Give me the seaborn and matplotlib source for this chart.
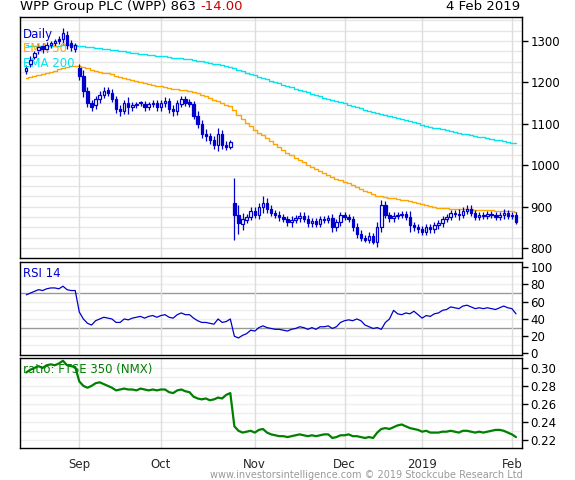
import numpy as np
import pandas as pd
import matplotlib
matplotlib.use("Agg")
import matplotlib.pyplot as plt
import seaborn as sns

# =====================================================
# DATA
# =====================================================

aug_c = [1235, 1255, 1270, 1285, 1280, 1290, 1295, 1300, 1300, 1320, 1290, 1285, 1290]
sep_c = [1215, 1180, 1150, 1140, 1160, 1170, 1180, 1175, 1160, 1135, 1130, 1150, 1140, 1145, 1148, 1150, 1140, 1148, 1150, 1140]
oct_c = [1150, 1155, 1135, 1130, 1150, 1160, 1150, 1148, 1120, 1100, 1075, 1070, 1060, 1050, 1075, 1050, 1045, 1055,
         880, 860, 870, 875, 890]
nov_c = [880, 900, 910, 895, 885, 880, 875, 870, 862, 868, 872, 878, 870, 860, 865, 858, 870, 868, 872, 850, 862, 880]
dec_c = [875, 870, 850, 835, 825, 820, 830, 815, 850, 905, 880, 872, 878, 880, 882, 875, 855, 850, 845]
jan_c = [840, 850, 845, 855, 860, 870, 875, 885, 882, 880, 890, 895, 885, 875, 880, 878, 882, 880, 875, 880, 885, 878]
feb_c = [880, 863]

aug_o = [1228, 1245, 1262, 1278, 1288, 1282, 1290, 1295, 1305, 1305, 1315, 1295, 1280]
sep_o = [1235, 1215, 1180, 1150, 1145, 1160, 1170, 1182, 1175, 1160, 1135, 1132, 1150, 1140, 1145, 1150, 1148, 1140, 1148, 1150]
oct_o = [1140, 1150, 1155, 1135, 1130, 1148, 1160, 1152, 1148, 1120, 1100, 1075, 1070, 1060, 1050, 1075, 1050, 1045,
         910, 880, 858, 868, 875]
nov_o = [890, 880, 900, 910, 895, 885, 880, 875, 870, 862, 868, 872, 878, 870, 860, 865, 858, 870, 868, 872, 850, 862]
dec_o = [880, 875, 870, 850, 835, 825, 820, 830, 815, 850, 905, 880, 872, 878, 880, 882, 875, 855, 850]
jan_o = [845, 840, 850, 845, 855, 860, 870, 875, 885, 882, 880, 890, 895, 885, 875, 880, 878, 882, 880, 875, 880, 885]
feb_o = [878, 880]

wick = ([8, 8, 6, 10, 8, 8, 6, 6, 8, 12, 10, 8, 6] +
        [10, 15, 10, 8, 8, 10, 8, 8, 8, 8, 10, 8, 15, 8, 6, 6, 8, 6, 8, 8] +
        [8, 10, 8, 10, 8, 8, 8, 8, 8, 10, 10, 12, 8, 10, 15, 10, 8, 6] +
        [60, 25, 15, 8, 8] +
        [8, 10, 15, 10, 8, 8, 10, 8, 8, 10, 8, 8, 8, 10, 8, 8, 8, 8, 8, 10, 8, 8] +
        [8, 8, 8, 10, 8, 6, 8, 6, 12, 12, 8, 8, 8, 8, 8, 8, 15, 8, 8] +
        [8, 8, 8, 8, 8, 8, 8, 8, 8, 12, 8, 8, 8, 8, 8, 8, 8, 8, 8, 8, 10, 8] +
        [8, 6])

rsi = ([68, 70, 72, 74, 73, 75, 76, 76, 75, 78, 74, 73, 73] +
       [48, 40, 35, 33, 38, 40, 42, 41, 40, 36, 36, 40, 39, 41, 42, 43, 41, 43, 44, 42] +
       [44, 45, 42, 41, 45, 47, 45, 45, 41, 38, 36, 36, 35, 34, 40, 36, 37, 40, 20, 18, 21, 23, 27] +
       [26, 30, 32, 30, 29, 28, 28, 27, 26, 28, 29, 31, 30, 28, 30, 28, 31, 31, 32, 29, 31, 36] +
       [38, 39, 38, 40, 38, 33, 31, 29, 30, 28, 36, 40, 50, 46, 45, 47, 46, 49, 45] +
       [41, 44, 43, 46, 47, 50, 51, 54, 53, 52, 55, 56, 54, 52, 53, 52, 53, 52, 51, 53, 55, 53] +
       [52, 46])

ratio = ([0.295, 0.298, 0.300, 0.302, 0.300, 0.303, 0.304, 0.303, 0.305, 0.308, 0.303, 0.302, 0.301] +
         [0.285, 0.280, 0.278, 0.280, 0.283, 0.284, 0.282, 0.280, 0.278, 0.275, 0.276, 0.277, 0.276, 0.276, 0.275,
          0.277, 0.276, 0.275, 0.276, 0.275] +
         [0.276, 0.276, 0.273, 0.272, 0.275, 0.276, 0.274, 0.273, 0.268, 0.266, 0.265, 0.266, 0.264, 0.265, 0.267,
          0.266, 0.270, 0.272, 0.235, 0.230, 0.228, 0.229, 0.230] +
         [0.228, 0.231, 0.232, 0.228, 0.226, 0.225, 0.224, 0.224, 0.223, 0.224, 0.225, 0.226, 0.225, 0.224, 0.225,
          0.224, 0.225, 0.226, 0.226, 0.222, 0.223, 0.225] +
         [0.225, 0.226, 0.224, 0.224, 0.223, 0.222, 0.223, 0.222, 0.228, 0.232, 0.233, 0.232, 0.234, 0.236, 0.237,
          0.235, 0.233, 0.232, 0.231] +
         [0.229, 0.230, 0.228, 0.228, 0.228, 0.229, 0.229, 0.230, 0.229, 0.228, 0.230, 0.230, 0.229, 0.228, 0.229,
          0.228, 0.229, 0.230, 0.231, 0.231, 0.230, 0.228] +
         [0.226, 0.223])

ema50_seed = 1210
ema200_seed = 1290

month_labels = ["Sep", "Oct", "Nov", "Dec", "2019", "Feb"]
holidays = ["2018-08-27", "2018-12-25", "2018-12-26", "2019-01-01"]

# =====================================================
# FRAME
# =====================================================

dates = pd.bdate_range("2018-08-14", "2019-02-04")
dates = dates[~dates.isin(pd.to_datetime(holidays))]

df = pd.DataFrame({
    "date": dates,
    "open": aug_o + sep_o + oct_o + nov_o + dec_o + jan_o + feb_o,
    "close": aug_c + sep_c + oct_c + nov_c + dec_c + jan_c + feb_c,
    "wick": wick,
    "rsi": rsi,
    "ratio": ratio,
})
df["x"] = np.arange(len(df))
df["high"] = df[["open", "close"]].max(axis=1) + df["wick"]
df["low"] = df[["open", "close"]].min(axis=1) - df["wick"]
df["ema50"] = pd.Series([ema50_seed] + list(df["close"])).ewm(span=50, adjust=False).mean().iloc[1:].values
df["ema200"] = pd.Series([ema200_seed] + list(df["close"])).ewm(span=200, adjust=False).mean().iloc[1:].values

month_pos = [df.index[(df["date"].dt.month == m)][0] for m in [9, 10, 11, 12, 1, 2]]

# =====================================================
# FIGURE
# =====================================================

sns.set_theme(style="white")
plt.rcParams["font.family"] = ["DejaVu Sans"]

fig = plt.figure(figsize=(5.75, 4.8), dpi=100)
left, width = 0.035, 0.873
ax1 = fig.add_axes([left, 0.4625, width, 0.502])
ax2 = fig.add_axes([left, 0.26, width, 0.194])
ax3 = fig.add_axes([left, 0.067, width, 0.187])

blue = "#0000cc"
xlim = (-1.5, len(df) + 0.5)

for ax in (ax1, ax2, ax3):
    ax.set_xlim(*xlim)
    ax.set_xticks(month_pos)
    ax.grid(axis="x", color="#dddddd", lw=1)
    ax.yaxis.tick_right()
    ax.tick_params(axis="y", right=True, length=4, width=1, labelsize=8.5, pad=2, colors="black")
    ax.tick_params(axis="x", bottom=False, labelbottom=False)
    for s in ax.spines.values():
        s.set_color("black")
        s.set_linewidth(1)

# price panel
for y in np.arange(775, 1360, 25):
    ax1.axhline(y, color="#e6e6e6", lw=1, zorder=0)
for _, r in df.iterrows():
    ax1.vlines(r["x"], r["low"], r["high"], color=blue, lw=0.9, zorder=3)
    body_lo = min(r["open"], r["close"])
    body_h = max(abs(r["close"] - r["open"]), 2)
    down = r["close"] < r["open"]
    ax1.add_patch(plt.Rectangle((r["x"] - 0.3, body_lo), 0.6, body_h,
                                facecolor=blue if down else "white", edgecolor=blue, lw=0.9, zorder=4))
sns.lineplot(data=df, x="x", y="ema50", ax=ax1, color="orange", lw=1, drawstyle="steps-mid", zorder=2)
sns.lineplot(data=df, x="x", y="ema200", ax=ax1, color="#00e5ee", lw=1, drawstyle="steps-mid", zorder=2)
ax1.set_ylim(776, 1358)
ax1.set_yticks([800, 900, 1000, 1100, 1200, 1300])
ax1.set_xlabel("")
ax1.set_ylabel("")
ax1.text(0.005, 0.955, "Daily", color=blue, fontsize=8.5, transform=ax1.transAxes, va="top")
ax1.text(0.005, 0.895, "EMA 50", color="orange", fontsize=8.5, transform=ax1.transAxes, va="top")
ax1.text(0.005, 0.835, "EMA 200", color="#00e5ee", fontsize=8.5, transform=ax1.transAxes, va="top")

# RSI panel
for y in [30, 70]:
    ax2.axhline(y, color="#999999", lw=1, zorder=0)
for y in [10, 20, 40, 50, 60, 80, 90]:
    ax2.axhline(y, color="#eeeeee", lw=1, zorder=0)
sns.lineplot(data=df, x="x", y="rsi", ax=ax2, color=blue, lw=0.9)
ax2.set_ylim(-2, 106)
ax2.set_yticks([0, 20, 40, 60, 80, 100])
ax2.set_xlabel("")
ax2.set_ylabel("")
ax2.text(0.005, 0.95, "RSI 14", color=blue, fontsize=8.5, transform=ax2.transAxes, va="top")

# ratio panel
for y in np.arange(0.22, 0.31, 0.01):
    ax3.axhline(y, color="#eeeeee", lw=1, zorder=0)
sns.lineplot(data=df, x="x", y="ratio", ax=ax3, color="green", lw=1.6)
ax3.set_ylim(0.211, 0.311)
ax3.set_yticks([0.22, 0.24, 0.26, 0.28, 0.30])
ax3.set_yticklabels(["0.22", "0.24", "0.26", "0.28", "0.30"])
ax3.set_xlabel("")
ax3.set_ylabel("")
ax3.tick_params(axis="x", labelbottom=True, labelsize=8.5, pad=1)
ax3.set_xticklabels(month_labels)
ax3.text(0.005, 0.95, "ratio: FTSE 350 (NMX)", color="green", fontsize=8.5, transform=ax3.transAxes, va="top")

# header / footer
t = fig.text(0.035, 0.972, "WPP Group PLC (WPP) 863 ", fontsize=9.5, color="black", va="bottom")
fig.canvas.draw()
bb = t.get_window_extent().transformed(fig.transFigure.inverted())
fig.text(bb.x1, 0.972, "-14.00", fontsize=9.5, color="#cc0000", va="bottom")
fig.text(0.905, 0.972, "4 Feb 2019", fontsize=9.5, color="black", va="bottom", ha="right")
fig.text(0.91, 0.0, "www.investorsintelligence.com \u00a9 2019 Stockcube Research Ltd",
         fontsize=7, color="#999999", ha="right", va="bottom")

fig.savefig("out.png", dpi=100, facecolor="white")
